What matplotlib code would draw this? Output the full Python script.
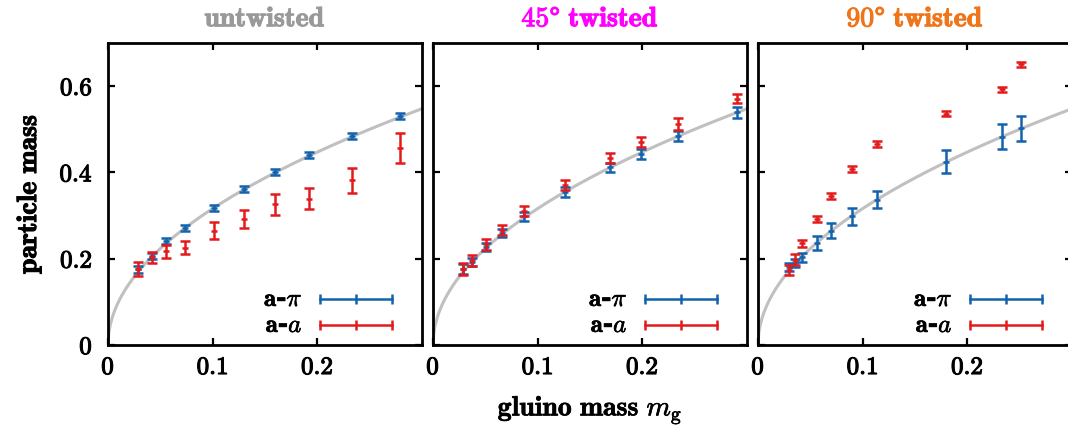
import numpy as np
import matplotlib
matplotlib.use("Agg")
from matplotlib import pyplot as plt
import matplotlib.patheffects as pe

plt.rcParams['mathtext.fontset'] = 'cm'
plt.rcParams['font.family'] = ['DejaVu Serif']

titles = [r'$\mathbf{untwisted}$', r'$\mathbf{45\degree\ twisted}$',
          r'$\mathbf{90\degree\ twisted}$']
title_colors = ['#999999', '#ff00ff', '#f07418']

# untwisted
x_u = [0.029, 0.0416, 0.0552, 0.0733, 0.101, 0.130, 0.160, 0.192, 0.2327, 0.279]
pi_u = [0.176, 0.207, 0.240, 0.271, 0.318, 0.362, 0.402, 0.441, 0.484, 0.530]
pi_u_err = [0.008, 0.007, 0.007, 0.007, 0.007, 0.007, 0.007, 0.007, 0.007, 0.007]
a_u = [0.176, 0.203, 0.217, 0.225, 0.265, 0.292, 0.326, 0.339, 0.382, 0.457]
a_u_err = [0.0155, 0.012, 0.0155, 0.015, 0.02, 0.021, 0.025, 0.024, 0.029, 0.034]

# 45 degree twisted
x_45 = [0.0291, 0.0375, 0.0505, 0.0663, 0.087, 0.1257, 0.169, 0.199, 0.234, 0.290]
pi_45 = [0.176, 0.192, 0.227, 0.260, 0.298, 0.355, 0.412, 0.443, 0.484, 0.539]
pi_45_err = [0.011, 0.010, 0.010, 0.010, 0.011, 0.011, 0.011, 0.012, 0.012, 0.013]
a_45 = [0.176, 0.196, 0.233, 0.267, 0.310, 0.371, 0.433, 0.471, 0.512, 0.571]
a_45_err = [0.014, 0.012, 0.012, 0.012, 0.012, 0.012, 0.012, 0.012, 0.013, 0.011]

# 90 degree twisted
x_90 = [0.0295, 0.0352, 0.0416, 0.0568, 0.0695, 0.0902, 0.1137, 0.1797, 0.2327, 0.251]
pi_90 = [0.181, 0.190, 0.203, 0.236, 0.265, 0.298, 0.337, 0.425, 0.483, 0.502]
pi_90_err = [0.010, 0.010, 0.010, 0.0155, 0.017, 0.019, 0.020, 0.027, 0.029, 0.029]
a_90 = [0.174, 0.198, 0.236, 0.293, 0.345, 0.407, 0.467, 0.536, 0.593, 0.651]
a_90_err = [0.012, 0.012, 0.008, 0.007, 0.007, 0.007, 0.007, 0.006, 0.006, 0.006]

fit_coef = 1.0   # m = c * sqrt(m_g)

xticks = [0, 0.1, 0.2]
xtick_labels = ['0', '0.1', '0.2']
yticks = [0, 0.2, 0.4, 0.6]
ytick_labels = ['0', '0.2', '0.4', '0.6']

panels = [(x_u, pi_u, pi_u_err, a_u, a_u_err),
          (x_45, pi_45, pi_45_err, a_45, a_45_err),
          (x_90, pi_90, pi_90_err, a_90, a_90_err)]

blue = '#1262ad'
red = '#e31a1c'
W, H = 1068, 430
FS = 18


def thick(c='black', w=0.8):
    return [pe.withStroke(linewidth=w, foreground=c)]


def bf(s):
    return r'$\mathbf{' + s + '}$'


fig = plt.figure(figsize=(W / 100, H / 100), dpi=100)
lefts = [108, 433, 758]
for i, (xs, pi, pie, aa, aae) in enumerate(panels):
    ax = fig.add_axes([lefts[i] / W, 85 / H, 314 / W, 302 / H])
    xf = np.linspace(0, 0.3, 400)
    ax.plot(xf, fit_coef * np.sqrt(xf), color='#c0c0c0', lw=2.2, zorder=1)
    ax.errorbar(xs, aa, yerr=aae, fmt='_', color=red, ms=4, mew=1.8,
                elinewidth=1.8, capsize=3.5, capthick=1.8, zorder=3)
    ax.errorbar(xs, pi, yerr=pie, fmt='_', color=blue, ms=4, mew=1.8,
                elinewidth=1.8, capsize=3.5, capthick=1.8, zorder=2)
    ax.set_xlim(0, 0.3)
    ax.set_ylim(0, 0.7)
    ax.set_xticks(xticks)
    ax.set_xticklabels([bf(t) for t in xtick_labels], fontsize=FS)
    ax.set_yticks(yticks)
    if i == 0:
        ax.set_yticklabels([bf(t) for t in ytick_labels], fontsize=FS)
        ax.set_ylabel(bf(r'particle\ mass'), fontsize=FS + 2, labelpad=11,
                      path_effects=thick())
    else:
        ax.set_yticklabels([])
    for lab in ax.get_xticklabels() + ax.get_yticklabels():
        lab.set_path_effects(thick())
    ax.tick_params(direction='in', length=5, width=1.6, top=True, right=True)
    ax.tick_params(axis='x', pad=8)
    ax.tick_params(axis='y', pad=11)
    for s in ax.spines.values():
        s.set_linewidth(2.0)
    ax.set_title(titles[i], color=title_colors[i], fontsize=FS + 2, pad=12,
                 path_effects=thick(title_colors[i]))
    # key
    for yk, col, lab in [(0.152, blue, r'$\mathbf{a}$-$\pi$'), (0.066, red, r'$\mathbf{a}$-$a$')]:
        ax.plot([0.675, 0.904], [yk, yk], color=col, lw=1.8, transform=ax.transAxes)
        ax.plot([0.675, 0.79, 0.904], [yk, yk, yk], ls='none', marker='|', ms=7, mew=1.8,
                color=col, transform=ax.transAxes)
        ax.text(0.62, yk, lab, transform=ax.transAxes, ha='right', va='center',
                fontsize=FS, fontweight='bold', path_effects=thick(w=0.5))

fig.text(590 / W, 1 - 410 / H, bf(r'gluino\ mass') + r'$\ m_\mathrm{g}$', ha='center', va='center',
         fontsize=FS + 2, path_effects=thick(w=0.5))
fig.savefig('out.png', dpi=100)
